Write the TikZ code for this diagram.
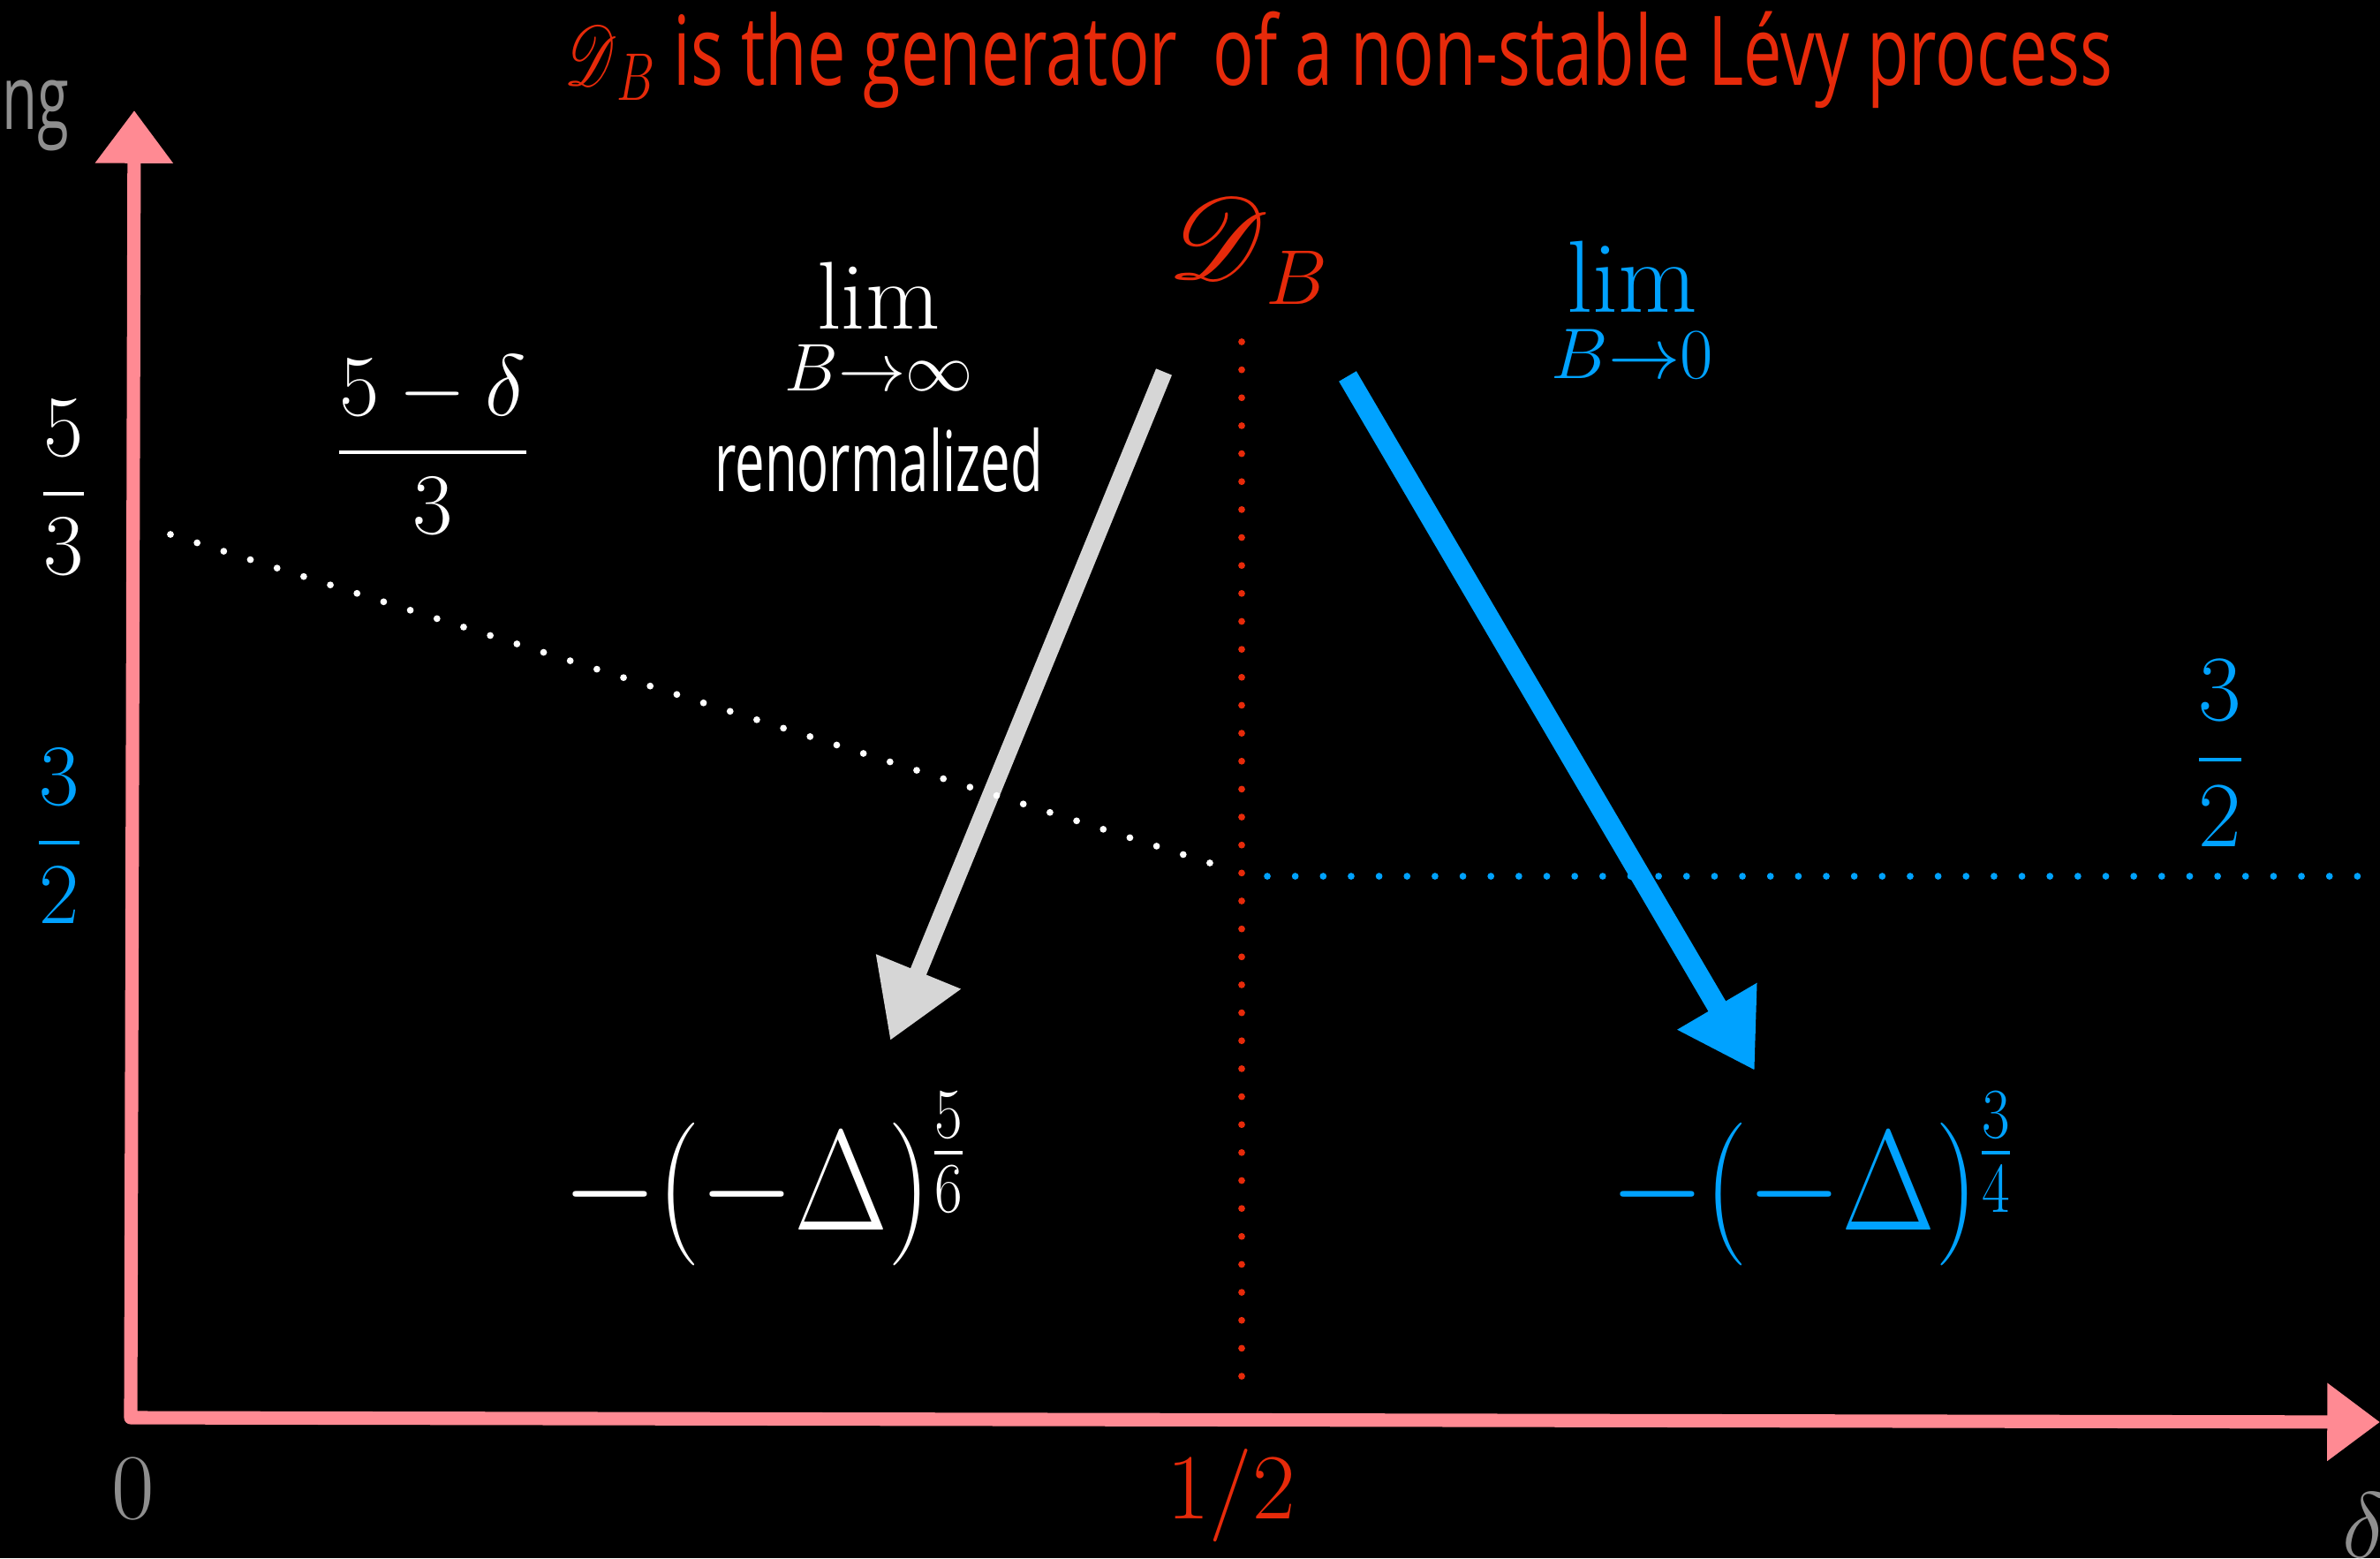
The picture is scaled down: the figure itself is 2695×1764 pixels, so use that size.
\RequirePackage{fix-cm}
\documentclass[tikz,border=0pt]{standalone}
\usepackage{amsmath,amssymb}
\usepackage{mathrsfs}
\usepackage{fontspec}
\newfontfamily\handfont{Open Sans}
\usepackage{tikz}
\usetikzlibrary{arrows.meta,positioning,calc}
\definecolor{cPink}{HTML}{FF8A93}
\definecolor{cRed}{HTML}{E62A0A}
\definecolor{cBlue}{HTML}{00A2FF}
\definecolor{cGray}{HTML}{8F8F8F}
\definecolor{cSilver}{HTML}{D6D6D6}
\newcommand{\fsz}[1]{\fontsize{#1}{#1}\selectfont}
\tikzset{
  axisline/.style={draw=cPink,line width=4.3pt,line cap=round,line join=round,
    {Triangle[length=17pt,width=24pt]}-{Triangle[length=17pt,width=24pt]}},
  dotline/.style={draw=#1,line width=2.2pt,line cap=round,dash pattern=on 0pt off 9pt},
  bigarr/.style={draw=#1,line width=5.5pt,-{Triangle[length=24pt,width=28pt]}},
  lbl/.style={inner sep=0pt,text=#1},
  lbl/.default=white,
}

\begin{document}
\begin{tikzpicture}[x=0.01cm,y=-0.01cm]
  \fill[black] (0,0) rectangle (2695,1764);
  \useasboundingbox (0,0) rectangle (2695,1764);
  % axes
  \coordinate (O) at (148,1605);
  \coordinate (yTop) at (152,125);
  \coordinate (xEnd) at (2695,1610);
  \draw[axisline] (yTop) -- (O) -- (xEnd);
  % limit arrows
  \coordinate (gS) at (1318,421);
  \coordinate (gE) at (1008,1178);
  \coordinate (bS) at (1526,426);
  \coordinate (bE) at (1987,1212);
  \draw[bigarr=cSilver] (gS) -- (gE);
  \draw[bigarr=cBlue,line width=6.5pt] (bS) -- (bE);
  % dotted guides
  \coordinate (wdS) at (193,605);
  \coordinate (wdE) at (1389,983);
  \coordinate (rdS) at (1406,387);
  \coordinate (rdE) at (1406,1573);
  \coordinate (bdS) at (1435,992);
  \coordinate (bdE) at (2695,992);
  \draw[dotline=white] (wdS) -- (wdE);
  \draw[dotline=cRed] (rdS) -- (rdE);
  \draw[dotline=cBlue] (bdS) -- (bdE);
  % labels
  \node[lbl=cRed,font=\handfont\fsz{31},anchor=base] (title) at (1516,97)
    {\scalebox{0.71}[1]{\fsz{25}\scalebox{1.1}{$\mathscr{D}$}\fsz{31}$_B$ is the generator\ \ of a non-stable Lévy process}};
  \node[lbl=cGray,font=\handfont\fsz{29},anchor=base west] (yName) at (2,147) {\scalebox{0.64}[1]{ng}};
  \node[lbl=cGray,font=\fsz{30}] (zero) at (151,1685) {$0$};
  \node[lbl=cRed,font=\fsz{30}] (half) at (1394,1693) {$1/2$};
  \node[lbl=cGray,font=\fsz{30},anchor=north west] (xName) at (2652,1690) {$\delta$};
  \node[lbl,font=\fsz{28}] (fiveThirds) at (72,552) {$\dfrac{5}{3}$};
  \node[lbl=cBlue,font=\fsz{28}] (threeHalvesL) at (67,947) {$\dfrac{3}{2}$};
  \node[lbl=cBlue,font=\fsz{30}] (threeHalvesR) at (2514,853) {$\dfrac{3}{2}$};
  \node[lbl,font=\fsz{28}] (slope) at (490,503) {$\dfrac{5-\delta}{3}$};
  \node[lbl=cRed,anchor=base west] (gen) at (1322,316)
    {{\fsz{25}\scalebox{1.5}{$\mathscr{D}$}}\kern-1pt{\fsz{25}\raisebox{-8pt}{$B$}}};
  \node[lbl,font=\fsz{31},anchor=north] (limInf) at (995,296) {$\displaystyle\lim_{B\to\infty}$};
  \node[lbl,font=\handfont\fsz{27},anchor=base] (renorm) at (995,556) {\scalebox{0.63}[1]{renormalized}};
  \node[lbl=cBlue,font=\fsz{33},anchor=north] (limZero) at (1848,272) {$\displaystyle\lim_{B\to0}$};
  \node[lbl,font=\fsz{46},anchor=base] (lapW) at (866,1392) {\scalebox{0.85}[1]{$-(-\Delta)^{\frac{5}{6}}$}};
  \node[lbl=cBlue,font=\fsz{46},anchor=base] (lapB) at (2052,1392) {\scalebox{0.85}[1]{$-(-\Delta)^{\frac{3}{4}}$}};
\end{tikzpicture}
\end{document}
